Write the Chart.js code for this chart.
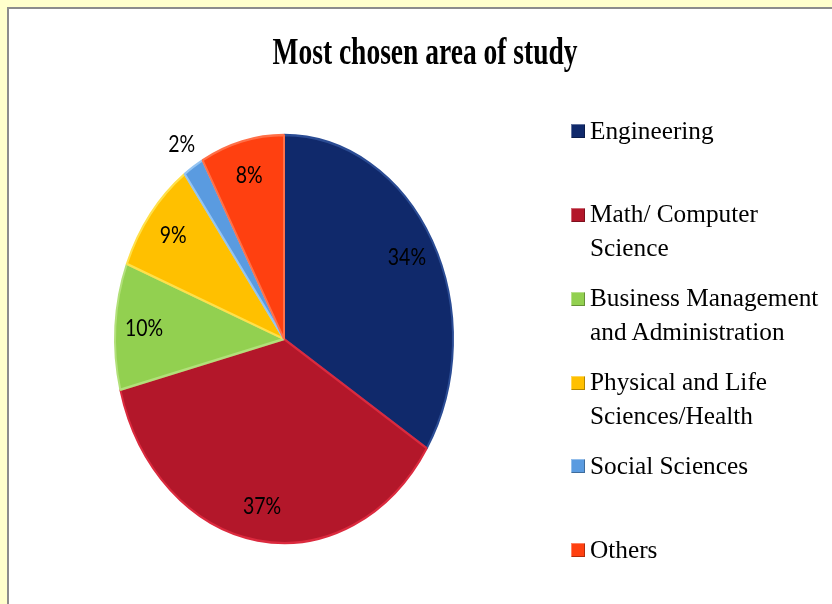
<!DOCTYPE html>
<html>
<head>
<meta charset="utf-8">
<script src="https://cdn.jsdelivr.net/npm/chart.js@4/dist/chart.umd.min.js"></script>
<style>
  html, body { margin: 0; padding: 0; }
  body { width: 832px; height: 604px; background: #FFFFCC; position: relative; overflow: hidden; }
  #panel { position: absolute; left: 7px; top: 7px; width: 840px; height: 620px; background: #FFFFFF;
           border-left: 2px solid #8C8C8C; border-top: 2px solid #8C8C8C; }
  #chart { position: absolute; left: 0; top: 0; }
  #title { position: absolute; left: 225px; top: 38.4px; width: 400px; height: 28px; line-height: 28px;
           text-align: center; font: bold 27.5px "Liberation Serif", "Times New Roman", serif; color: #000;
           transform-origin: 50% 23.3px; transform: scaleY(1.37); white-space: nowrap; }
  #legend { position: absolute; left: 571px; top: 113.6px; width: 260px; }
  .item { position: relative; height: 83.8px; }
  .swatch { position: absolute; left: 0; top: 10.6px; width: 14px; height: 14px;
            box-shadow: inset 1px 1px 0 rgba(255,255,255,0.35), inset -1px -1px 0 rgba(0,0,0,0.3); }
  .txt { position: absolute; left: 19px; top: 0; font: 25.3px "Liberation Serif", "Times New Roman", serif;
         line-height: 33.6px; color: #000; white-space: nowrap; }
</style>
</head>
<body>
<div id="panel"></div>
<canvas id="chart" width="832" height="604"></canvas>
<div id="title">Most chosen area of study</div>
<div id="legend"></div>
<script>
// ---- data ----
const categories = ["Engineering", "Math/ Computer Science", "Business Management and Administration",
                    "Physical and Life Sciences/Health", "Social Sciences", "Others"];
const legendLines = [["Engineering"], ["Math/ Computer", "Science"], ["Business Management", "and Administration"],
                     ["Physical and Life", "Sciences/Health"], ["Social Sciences"], ["Others"]];
const shares = [34, 37, 10, 9, 2, 8];
const colors = ["#10296B", "#B3172A", "#92D050", "#FFC000", "#5A9BE0", "#FF4010"];
const rimColors = ["#2B4C94", "#DB2A3E", "#B2E07A", "#FFE04A", "#94C4F2", "#FF7048"];

// ---- legend (HTML) ----
const legendEl = document.getElementById('legend');
categories.forEach((c, i) => {
  const item = document.createElement('div'); item.className = 'item';
  const sw = document.createElement('div'); sw.className = 'swatch'; sw.style.background = colors[i];
  const tx = document.createElement('div'); tx.className = 'txt'; tx.innerHTML = legendLines[i].join('<br>');
  item.appendChild(sw); item.appendChild(tx); legendEl.appendChild(item);
});

// ---- vertical stretch of the pie + percentage labels ----
const SY = 1.207;
const stretchPlugin = {
  id: 'stretch',
  beforeDatasetsDraw(chart) {
    const el = chart.getDatasetMeta(0).data[0];
    const ctx = chart.ctx;
    ctx.save();
    ctx.translate(el.x, el.y); ctx.scale(1, SY); ctx.translate(-el.x, -el.y);
  },
  afterDatasetsDraw(chart) {
    const ctx = chart.ctx;
    const meta = chart.getDatasetMeta(0);
    const vals = chart.data.datasets[0].data;
    ctx.font = '19.5px Lato, "Open Sans", sans-serif';
    ctx.fillStyle = '#000';
    ctx.textAlign = 'center';
    ctx.textBaseline = 'middle';
    meta.data.forEach((arc, i) => {
      const p = arc.getProps(['x', 'y', 'startAngle', 'endAngle', 'outerRadius'], true);
      const mid = (p.startAngle + p.endAngle) / 2;
      const k = vals[i] < 5 ? 1.13 : 0.83;
      const lx = p.x + Math.cos(mid) * p.outerRadius * k;
      const ly = p.y + Math.sin(mid) * p.outerRadius * k;
      ctx.fillText(vals[i] + '%', lx, ly);
    });
    ctx.restore();
  }
};

new Chart(document.getElementById('chart'), {
  type: 'pie',
  data: {
    labels: categories,
    datasets: [{
      data: shares,
      backgroundColor: colors,
      borderColor: rimColors,
      borderWidth: 2,
      radius: 169,
      clip: false,
      hoverOffset: 0
    }]
  },
  options: {
    responsive: false,
    animation: false,
    layout: { padding: { left: 115, top: 170, right: 379, bottom: 96 } },
    plugins: { legend: { display: false }, title: { display: false }, tooltip: { enabled: false } }
  },
  plugins: [stretchPlugin]
});
</script>
</body>
</html>
